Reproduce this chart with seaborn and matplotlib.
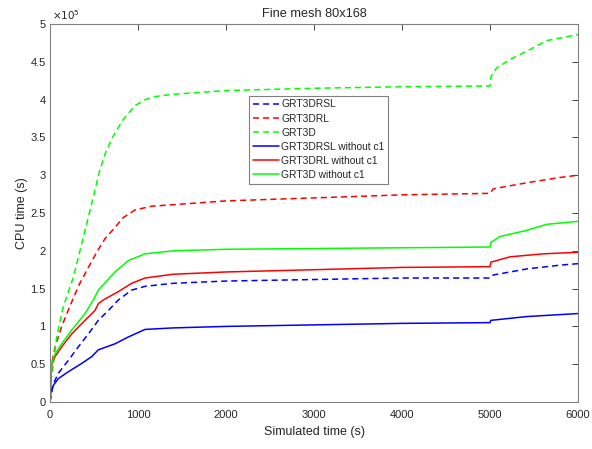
import numpy as np
import pandas as pd
import seaborn as sns
import matplotlib
import matplotlib.pyplot as plt
from matplotlib.ticker import FuncFormatter, MultipleLocator
plt.switch_backend('agg')

# values in units of 1e5 s CPU time
t_drsl = [0, 38, 95, 208, 322, 436, 549, 663, 777, 928, 1080, 1400, 2000, 3000, 4000, 5000, 5038, 5417, 5795, 6000]
v_drsl = [0, 0.24, 0.38, 0.55, 0.73, 0.90, 1.08, 1.21, 1.35, 1.48, 1.53, 1.57, 1.60, 1.62, 1.64, 1.64, 1.68, 1.76, 1.81, 1.83]

t_drl = [0, 19, 57, 133, 220, 330, 436, 530, 625, 739, 833, 966, 1155, 1400, 2000, 3000, 4000, 5000, 5038, 5417, 5795, 6000]
v_drl = [0, 0.51, 0.72, 1.00, 1.25, 1.55, 1.78, 1.98, 2.16, 2.31, 2.44, 2.54, 2.59, 2.61, 2.66, 2.70, 2.74, 2.76, 2.82, 2.90, 2.97, 3.00]

t_d = [0, 8, 38, 76, 151, 265, 379, 492, 560, 625, 720, 833, 966, 1080, 1193, 1400, 2000, 3000, 4000, 5000, 5010, 5076, 5227, 5417, 5644, 6000]
v_d = [0, 0.25, 0.51, 0.86, 1.26, 1.65, 2.18, 2.71, 3.04, 3.28, 3.52, 3.74, 3.92, 4.00, 4.04, 4.07, 4.12, 4.15, 4.17, 4.18, 4.30, 4.42, 4.53, 4.64, 4.78, 4.86]

t_drsl_nc = [0, 11, 38, 95, 208, 360, 474, 549, 739, 890, 1080, 1400, 2000, 3000, 4000, 5000, 5010, 5417, 6000]
v_drsl_nc = [0, 0.14, 0.22, 0.31, 0.40, 0.51, 0.60, 0.69, 0.77, 0.86, 0.96, 0.98, 1.00, 1.02, 1.04, 1.05, 1.08, 1.13, 1.17]

t_drl_nc = [0, 19, 57, 133, 246, 398, 511, 549, 606, 777, 928, 1080, 1400, 2000, 3000, 4000, 5000, 5010, 5227, 5606, 6000]
v_drl_nc = [0, 0.49, 0.60, 0.73, 0.90, 1.08, 1.21, 1.30, 1.35, 1.46, 1.57, 1.64, 1.69, 1.72, 1.75, 1.78, 1.79, 1.85, 1.92, 1.96, 1.98]

t_d_nc = [0, 5, 19, 57, 133, 246, 398, 492, 549, 739, 890, 1080, 1400, 2000, 3000, 4000, 5000, 5010, 5114, 5417, 5644, 6000]
v_d_nc = [0, 0.2, 0.51, 0.64, 0.77, 0.95, 1.17, 1.35, 1.48, 1.72, 1.87, 1.96, 2.00, 2.02, 2.03, 2.04, 2.05, 2.11, 2.19, 2.27, 2.35, 2.39]

labels = ['GRT3DRSL', 'GRT3DRL', 'GRT3D',
          'GRT3DRSL without c1', 'GRT3DRL without c1', 'GRT3D without c1']
colors = ['#0000ff', '#ff0000', '#00ff00', '#0000ff', '#ff0000', '#00ff00']
series = [(t_drsl, v_drsl), (t_drl, v_drl), (t_d, v_d),
          (t_drsl_nc, v_drsl_nc), (t_drl_nc, v_drl_nc), (t_d_nc, v_d_nc)]

sns.set_style('white')
plt.rcParams['font.family'] = ['Liberation Sans', 'DejaVu Sans']
plt.rcParams['text.color'] = '#262626'

fig = plt.figure(figsize=(5.92, 4.49), dpi=100)
ax = fig.add_axes([50/592, 47/449, 528/592, 378/449])

for i, (lab, col, (t, v)) in enumerate(zip(labels, colors, series)):
    df = pd.DataFrame({'t': t, 'v': v})
    ls = (0, (4.0, 2.6)) if i < 3 else '-'
    sns.lineplot(data=df, x='t', y='v', ax=ax, color=col, linestyle=ls,
                 linewidth=1.1, label=lab, estimator=None, sort=False)

ax.set_xlim(0, 6000)
ax.set_ylim(0, 5)
ax.xaxis.set_major_locator(MultipleLocator(1000))
ax.yaxis.set_major_locator(MultipleLocator(0.5))
ax.yaxis.set_major_formatter(FuncFormatter(lambda y, p: f'{y:g}'))
ax.tick_params(direction='in', length=4, width=0.6, top=True, right=True,
               labelsize=8, colors='#262626')
ax.tick_params(axis='x', pad=6)
ax.tick_params(axis='y', pad=3)
for s in ax.spines.values():
    s.set_color('#808080')
    s.set_linewidth(0.8)

ax.set_xlabel('Simulated time (s)', fontsize=9, color='#262626', labelpad=4)
ax.set_ylabel('CPU time (s)', fontsize=9, color='#262626', labelpad=2)
ax.set_title('Fine mesh 80x168', fontsize=9.2, color='#262626', pad=5)
ax.text(0.004, 1.004, r'$\times10^5$', transform=ax.transAxes, fontsize=7.5,
        ha='left', va='bottom', color='#262626')

leg = ax.legend(loc='upper left', bbox_to_anchor=(0.377, 0.81), fontsize=7.4,
                frameon=True, fancybox=False, framealpha=1, edgecolor='#808080',
                handlelength=2.6, handletextpad=0.2, labelspacing=0.4,
                borderpad=0.35, borderaxespad=0)
leg.get_frame().set_linewidth(0.8)

fig.savefig('out.png', dpi=100)
